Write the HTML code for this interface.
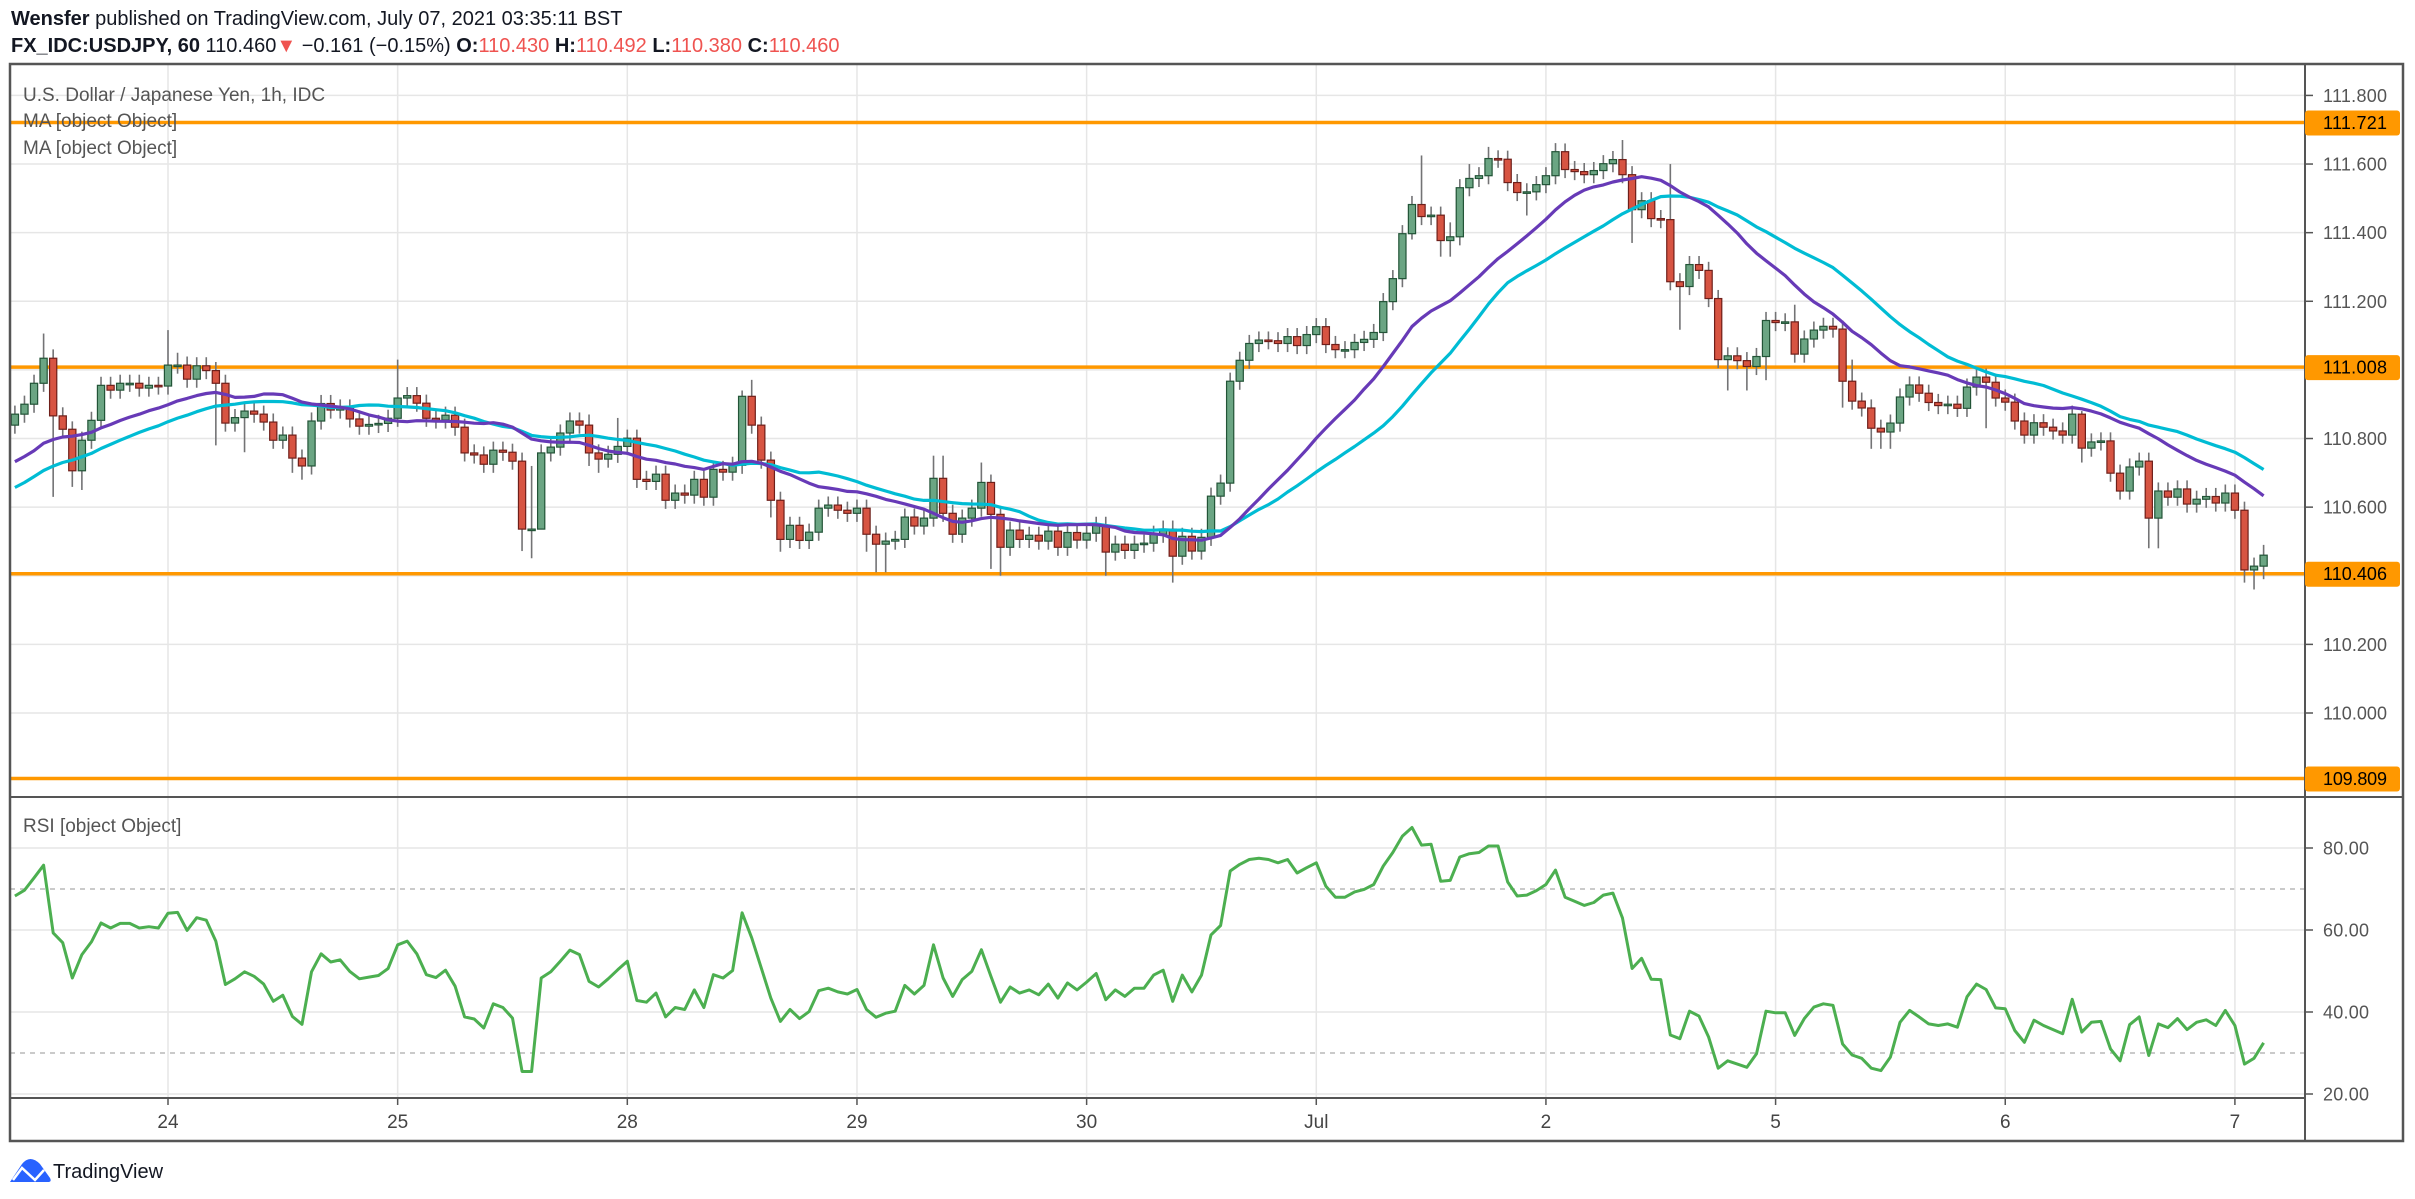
<!DOCTYPE html>
<html><head><meta charset="utf-8"><style>
html,body{margin:0;padding:0;background:#fff;}
svg{display:block;font-family:"Liberation Sans",sans-serif;}
</style></head><body>
<svg id="c" width="2415" height="1199" viewBox="0 0 2415 1199" xmlns="http://www.w3.org/2000/svg">
<text x="11" y="25" font-size="20" fill="#131722"><tspan font-weight="bold">Wensfer</tspan> published on TradingView.com, July 07, 2021 03:35:11 BST</text>
<text x="11" y="52" font-size="20" fill="#131722"><tspan font-weight="bold">FX_IDC:USDJPY, 60</tspan> 110.460<tspan fill="#ef5350">▼</tspan> −0.161 (−0.15%) <tspan font-weight="bold">O:</tspan><tspan fill="#ef5350">110.430</tspan> <tspan font-weight="bold">H:</tspan><tspan fill="#ef5350">110.492</tspan> <tspan font-weight="bold">L:</tspan><tspan fill="#ef5350">110.380</tspan> <tspan font-weight="bold">C:</tspan><tspan fill="#ef5350">110.460</tspan></text>
<g id="grid"></g>
<g id="marks"></g>
<g id="frame"></g>
</svg>
<script>
// ---- data ----
const preCloses = [110.45,110.47,110.44,110.50,110.48,110.52,110.49,110.51,110.55,110.53,110.58,110.60,110.62,110.60,110.65,110.68,110.66,110.70,110.72,110.70,110.74,110.73,110.76,110.78,110.75,110.80,110.82,110.79,110.83,110.85];
const firstOpen = 110.839;
const closes = [110.871,110.900,110.961,111.034,110.866,110.827,110.706,110.795,110.853,110.955,110.941,110.961,110.961,110.947,110.955,110.953,
111.014,111.014,110.973,111.012,110.998,110.961,110.845,110.861,110.880,110.871,110.848,110.795,110.810,110.743,110.720,110.851,110.902,110.883,110.889,110.857,110.836,110.841,110.844,110.859,110.918,110.925,110.903,110.859,110.854,110.868,
110.833,110.758,110.752,110.725,110.766,110.760,110.734,110.536,110.536,110.758,110.775,110.816,110.851,110.839,110.758,110.740,
110.754,110.777,110.801,110.681,110.675,110.696,110.620,110.641,110.635,110.681,110.629,110.710,110.702,110.722,110.923,110.839,110.737,110.620,110.506,110.547,110.503,110.527,110.597,110.606,110.591,110.582,110.597,110.521,110.492,110.501,
110.506,110.571,110.545,110.568,110.684,110.582,110.521,110.568,110.597,110.672,110.579,110.483,110.533,110.506,110.518,110.501,110.530,110.483,110.526,110.504,110.524,110.547,110.469,110.492,110.474,110.492,110.495,110.521,110.536,110.457,
110.515,110.472,110.512,110.632,110.670,110.967,111.028,111.077,111.087,111.085,111.077,111.097,111.071,111.103,111.126,111.074,111.059,111.059,111.080,111.089,111.109,111.199,111.266,111.397,111.482,111.447,111.451,111.377,111.388,111.531,
111.558,111.566,111.616,111.614,111.546,111.517,111.519,111.540,111.566,111.636,111.584,111.578,111.569,111.581,111.601,111.613,111.569,111.467,111.493,111.441,111.438,111.257,111.243,111.307,111.290,111.208,111.030,111.041,111.027,111.010,
111.039,111.144,111.138,111.140,111.046,111.090,111.116,111.127,111.119,110.967,110.909,110.889,110.830,110.819,110.845,110.921,110.956,110.932,110.905,110.896,110.900,110.888,110.950,110.979,110.964,110.918,110.906,110.851,110.810,110.846,
110.833,110.822,110.810,110.871,110.772,110.790,110.793,110.699,110.647,110.717,110.734,110.568,110.647,110.629,110.653,110.609,110.623,110.631,110.612,110.641,110.591,110.417,110.428,110.460];
const highOverrides = {"-13":111.106,"-12":111.06,"-10":110.85,"0":111.116,"1":111.05,"24":111.03,"38":110.72,"44":110.87,"47":110.86,"60":110.94,"61":110.971,"80":110.75,"81":110.75,"85":110.73,"86":110.695,"131":111.625,"134":111.43,"136":111.60,"138":111.65,"139":111.64,"146":111.66,"152":111.67,"157":111.60,"170":111.19,"176":111.03,"200":110.88,"219":110.49};
const lowOverrides = {"-12":110.63,"-10":110.659,"-9":110.65,"5":110.78,"8":110.76,"13":110.70,"14":110.68,"37":110.472,"38":110.451,"39":110.62,"44":110.72,"45":110.70,"63":110.57,"64":110.47,"73":110.47,"74":110.41,"75":110.41,"86":110.42,"87":110.40,"98":110.40,"105":110.38,"130":111.38,"133":111.33,"134":111.33,"142":111.45,"153":111.37,"158":111.117,"163":110.94,"165":110.94,"167":110.97,"175":110.89,"178":110.77,"179":110.77,"180":110.77,"190":110.83,"200":110.73,"207":110.48,"208":110.48,"217":110.38,"218":110.36,"219":110.39};
const rsi = [68.3,69.7,72.7,75.8,59.3,56.9,48.3,54.0,57.1,61.7,60.5,61.6,61.6,60.5,60.8,60.5,
64.1,64.3,59.9,63.0,62.4,57.3,46.7,48.1,49.8,48.7,46.8,42.6,44.1,38.9,37.0,49.8,54.2,52.2,52.7,49.9,48.1,48.5,48.9,50.6,56.4,57.3,54.2,49.1,48.4,50.2,
46.3,38.8,38.3,36.1,42.0,41.1,38.5,25.5,25.5,48.3,49.8,52.4,55.1,54.0,47.5,46.1,48.1,50.3,52.4,42.8,42.4,44.6,38.8,41.1,40.6,45.4,41.1,49.1,48.3,50.1,
64.2,58.1,50.7,43.4,37.7,40.6,38.4,40.1,45.2,45.8,44.9,44.4,45.5,40.6,38.7,39.7,40.2,46.5,44.4,46.5,56.4,48.3,43.8,47.9,49.9,55.2,48.7,42.4,46.1,44.6,
45.4,44.2,46.8,43.4,47.1,45.4,47.3,49.4,43.0,45.4,43.8,45.8,45.8,49.0,50.2,42.6,49.0,44.9,49.0,58.8,61.1,74.4,76.0,77.2,77.5,77.2,76.4,77.2,73.9,75.2,
76.4,70.7,68.0,68.0,69.3,69.9,71.1,75.6,78.9,82.9,85.0,80.7,80.9,71.9,72.1,77.8,78.6,78.9,80.5,80.5,71.7,68.3,68.5,69.6,71.1,74.6,68.0,67.0,66.0,66.7,
68.5,69.0,62.9,50.6,53.1,48.0,47.9,34.4,33.5,40.2,39.0,33.9,26.3,28.1,27.3,26.5,29.8,40.2,39.8,39.8,34.3,38.4,41.2,42.0,41.6,32.2,29.5,28.7,26.3,25.7,
29.0,37.5,40.4,38.8,37.1,36.7,37.1,36.3,43.7,46.8,45.5,41.0,40.8,35.5,32.6,38.0,36.7,35.7,34.7,43.1,35.1,37.5,37.7,31.0,28.1,36.9,38.8,29.4,37.1,36.2,
38.4,35.7,37.5,38.1,36.7,40.4,36.7,27.3,28.7,32.5];
const firstIndex = -16;
const dayLabels = ["24","25","28","29","30","Jul","2","5","6","7"];
const priceTicks = [111.8,111.6,111.4,111.2,111.0,110.8,110.6,110.4,110.2,110.0];
const levelLines = [111.721,111.008,110.406,109.809];
const rsiTicks = [80,60,40,20];
const rsiDashed = [70,30];

// ---- geometry ----
const NS="http://www.w3.org/2000/svg";
const L=10,R=2305,T=64,SEP=797,TA=1098,B=1141,OR=2403;
const X=i=>168+i*9.569;
const Y=p=>713-(p-110)*343.1;
const YR=r=>1012-(r-40)*4.1;
function mk(tag,attrs,parent){const e=document.createElementNS(NS,tag);for(const k in attrs)e.setAttribute(k,attrs[k]);parent.appendChild(e);return e;}
const grid=document.getElementById('grid'),marks=document.getElementById('marks'),frame=document.getElementById('frame');

// grid
priceTicks.forEach(p=>{const l=mk('line',{x1:L,x2:R,y1:Y(p),y2:Y(p),stroke:'#e6e6e6','stroke-width':1.5},grid);

});
rsiTicks.forEach(r=>{const l=mk('line',{x1:L,x2:R,y1:YR(r),y2:YR(r),stroke:'#e6e6e6','stroke-width':1.5},grid);

});
rsiDashed.forEach(r=>{const l=mk('line',{x1:L,x2:R,y1:YR(r),y2:YR(r),stroke:'#b8b8b8','stroke-width':1.5,'stroke-dasharray':'5 5'},grid);

});
dayLabels.forEach((d,k)=>{const x=X(k*24);const l=mk('line',{x1:x,x2:x,y1:T,y2:TA,stroke:'#e6e6e6','stroke-width':1.5},grid);

});

// level lines
levelLines.forEach(p=>{const l=mk('line',{x1:L,x2:R,y1:Y(p),y2:Y(p),stroke:'#ff9800','stroke-width':3.5},marks);

});

// candles
let prev=firstOpen;
closes.forEach((c,k)=>{const i=firstIndex+k;const o=prev;prev=c;
 const up=c>=o;const top=Math.max(o,c),bot=Math.min(o,c);
 const hi=highOverrides[i]!==undefined?Math.max(highOverrides[i],top):top+0.025;
 const lo=lowOverrides[i]!==undefined?Math.min(lowOverrides[i],bot):bot-0.025;
 const x=X(i);
 const w=mk('line',{x1:x,x2:x,y1:Y(hi),y2:Y(lo),stroke:'#737375','stroke-width':1.6},marks);
 
 
 const h=Math.max(Y(bot)-Y(top),1.5);
 const b=mk('rect',{x:x-3.6,y:Y(top),width:7.2,height:h,fill:up?'#6ba583':'#d75442',stroke:up?'#225437':'#6f1f1a','stroke-width':1.2},marks);
 
 
});

// moving averages
const all=preCloses.concat(closes);
function sma(n){const out=[];for(let k=0;k<closes.length;k++){const j=preCloses.length+k;let s=0;for(let m=j-n+1;m<=j;m++)s+=all[m];out.push(s/n);}return out;}
function line(vals,yf,color,w,name){const pts=vals.map((v,k)=>X(firstIndex+k).toFixed(1)+','+yf(v).toFixed(1)).join(' ');
 const p=mk('polyline',{points:pts,fill:'none',stroke:color,'stroke-width':w,'stroke-linejoin':'round'},marks);
 
 }
line(sma(30),Y,'#00bcd4',3.2,'ma-slow-line');
line(sma(20),Y,'#673ab7',3.2,'ma-fast-line');
line(rsi,YR,'#4caf50',3,'rsi-line');

// frame
const bg=mk('rect',{x:R,y:T,width:OR-R,height:B-T,fill:'#fff'},frame);


const box=mk('rect',{x:L,y:T,width:OR-L,height:B-T,fill:'none',stroke:'#555','stroke-width':2.5},frame);


const va=mk('line',{x1:R,x2:R,y1:T,y2:B,stroke:'#555','stroke-width':2},frame);


const sp=mk('line',{x1:L,x2:OR,y1:SEP,y2:SEP,stroke:'#555','stroke-width':2},frame);


const ta=mk('line',{x1:L,x2:R,y1:TA,y2:TA,stroke:'#555','stroke-width':2},frame);



function txt(s,attrs,name,inter){const t=mk('text',attrs,frame);t.textContent=s;
 
 return t;}
priceTicks.forEach(p=>{const tk=mk('line',{x1:R,x2:R+8,y1:Y(p),y2:Y(p),stroke:'#555','stroke-width':1.5},frame);
 
 
 txt(p.toFixed(3),{x:2323,y:Y(p)+6.5,'font-size':18,fill:'#555',textLength:64,lengthAdjust:'spacing'},'price-tick-label','false');});
levelLines.forEach(p=>{const r=mk('rect',{x:R,y:Y(p)-12,width:95,height:25,rx:3,fill:'#ff9800'},frame);
 
 
 txt(p.toFixed(3),{x:2323,y:Y(p)+6.5,'font-size':18,fill:'#000',textLength:64,lengthAdjust:'spacing'},'level-price-label','false');});
rsiTicks.forEach(r=>{const tk=mk('line',{x1:R,x2:R+8,y1:YR(r),y2:YR(r),stroke:'#555','stroke-width':1.5},frame);
 
 
 txt(r.toFixed(2),{x:2323,y:YR(r)+6.5,'font-size':18,fill:'#555',textLength:46,lengthAdjust:'spacing'},'rsi-tick-label','false');});
dayLabels.forEach((d,k)=>{const x=X(k*24);
 const tk=mk('line',{x1:x,x2:x,y1:TA,y2:TA+7,stroke:'#555','stroke-width':1.5},frame);
 
 
 txt(d,{x:x,y:1128,'font-size':19,fill:'#444','text-anchor':'middle'},'time-tick-label','false');});

txt('U.S. Dollar / Japanese Yen, 1h, IDC',{x:23,y:101,'font-size':19,fill:'#555'},'series-title','false');
txt('MA [object Object]',{x:23,y:127,'font-size':19,fill:'#555'},'ma-legend-1','false');
txt('MA [object Object]',{x:23,y:154,'font-size':19,fill:'#555'},'ma-legend-2','false');
txt('RSI [object Object]',{x:23,y:832,'font-size':19,fill:'#555'},'rsi-legend','false');

// logo
const lg=mk('path',{d:'M10 1182 L22 1164 Q30 1154 40 1164 L50 1178 Q52 1182 48 1182 Z',fill:'#2962ff'},frame);


const lp=mk('polyline',{points:'13,1180 22,1168 35,1180 44,1170',fill:'none',stroke:'#fff','stroke-width':2.5},frame);


txt('TradingView',{x:53,y:1178,'font-size':20,fill:'#131722'},'tradingview-logo-text','true');
</script>
</body></html>
